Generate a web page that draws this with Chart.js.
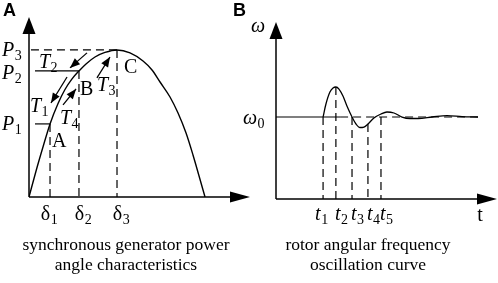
<!DOCTYPE html>
<html><head><meta charset="utf-8">
<script src="https://cdn.jsdelivr.net/npm/chart.js@4"></script>
<style>
html,body{margin:0;padding:0;background:#fff;}
#wrap{position:relative;width:498px;height:283px;background:#fff;}
canvas{position:absolute;left:0;top:0;}
</style></head><body>
<div id="wrap"><canvas id="cA" width="498" height="283"></canvas><canvas id="cB" width="498" height="283"></canvas></div>
<script>
// ---------- Panel A: power-angle characteristic ----------
const deltaDeg = [0, 7.2, 14.3, 21.5, 29.7, 36.8, 44.0, 51.1, 58.3, 67.5, 77.7, 90, 103.3, 116.6, 125.8, 134.0, 144.2, 152.4, 160.6, 167.7, 173.9, 180];
const powerPU  = [0, 0.177, 0.340, 0.497, 0.636, 0.731, 0.803, 0.857, 0.905, 0.952, 0.983, 1.0, 0.980, 0.925, 0.864, 0.782, 0.680, 0.571, 0.435, 0.286, 0.143, 0];
const deltaMarks = [21.5, 51.1, 90];      // δ1, δ2, δ3
const powerMarks = [0.497, 0.857, 1.0];   // P1, P2, P3
const markSubs = ['1', '2', '3'];
// torque arrows [startDeg, startP, endDeg, endP]
const torqueArrows = [
  [59.3, 0.980, 41.9, 0.878],  // T2
  [38.9, 0.816, 22.5, 0.639],  // T1
  [34.8, 0.626, 48.1, 0.735],  // T4
  [69.5, 0.810, 82.8, 0.952]   // T3
];

// ---------- Panel B: rotor angular frequency ----------
const timeT  = [21.3, 22.6, 24.4, 25.8, 27.1, 28.5, 30.3, 32.1, 34.4, 36.2, 38.0, 39.8, 41.6, 44.3, 47.5, 50.2, 53.4, 57.0, 60.6, 64.3, 70.6, 77.4, 84.2, 91.4];
const omegaW = [1.0, 1.159, 1.305, 1.354, 1.366, 1.341, 1.256, 1.134, 1.0, 0.915, 0.872, 0.878, 0.915, 0.988, 1.037, 1.061, 1.049, 1.0, 0.982, 0.982, 1.0, 1.018, 1.006, 1.0];
const timeMarks  = [21.3, 27.1, 34.4, 41.6, 47.5];   // t1..t5
const timeMarkW  = [1.0, 1.366, 1.0, 0.915, 1.0];
const timeSubs   = ['1', '2', '3', '4', '5'];
const omegaSolidEnd = 29;
const omegaDashEnd = 91.4;

const captionsA = ['synchronous generator power', 'angle characteristics'];
const captionsB = ['rotor angular frequency', 'oscillation curve'];

const SERIF = '"Liberation Serif", "Times New Roman", serif';
const DASH = [8, 5];

function arrowHead(ctx, x0, y0, x1, y1, len, hw) {
  const a = Math.atan2(y1 - y0, x1 - x0);
  ctx.beginPath();
  ctx.moveTo(x1, y1);
  ctx.lineTo(x1 - len * Math.cos(a) + hw * Math.sin(a), y1 - len * Math.sin(a) - hw * Math.cos(a));
  ctx.lineTo(x1 - len * Math.cos(a) - hw * Math.sin(a), y1 - len * Math.sin(a) + hw * Math.cos(a));
  ctx.closePath();
  ctx.fill();
}
function drawSub(ctx, x, yc, main, s, italic, align) {
  const mf = (italic ? 'italic ' : '') + '20px ' + SERIF;
  const sf = '14px ' + SERIF;
  ctx.font = mf; const w1 = ctx.measureText(main).width;
  ctx.font = sf; const w2 = ctx.measureText(s).width;
  let left = x;
  if (align === 'center') left = x - (w1 + w2) / 2;
  ctx.textAlign = 'left'; ctx.textBaseline = 'alphabetic';
  ctx.font = mf; ctx.fillText(main, left, yc + 6);
  ctx.font = sf; ctx.fillText(s, left + w1 + 0.5, yc + 10);
}
function drawAxes(chart) {
  const ctx = chart.ctx, xs = chart.scales.x, ys = chart.scales.y, ca = chart.chartArea;
  const x0 = xs.getPixelForValue(0), y0 = ys.getPixelForValue(0);
  ctx.save();
  ctx.strokeStyle = '#000'; ctx.fillStyle = '#000'; ctx.lineWidth = 1.5;
  ctx.beginPath(); ctx.moveTo(x0, y0); ctx.lineTo(x0, ca.top + 10); ctx.stroke();
  arrowHead(ctx, x0, y0, x0, ca.top, 17, 6.5);
  ctx.beginPath(); ctx.moveTo(x0, y0); ctx.lineTo(ca.right - 10, y0); ctx.stroke();
  arrowHead(ctx, x0, y0, ca.right, y0, 20, 5.5);
  ctx.restore();
}

const labelsA = {
  id: 'labelsA',
  afterDatasetsDraw(chart) {
    const ctx = chart.ctx, xs = chart.scales.x, ys = chart.scales.y;
    drawAxes(chart);
    ctx.save();
    ctx.fillStyle = '#000'; ctx.strokeStyle = '#000'; ctx.lineWidth = 1.3;
    torqueArrows.forEach(a => {
      const x0 = xs.getPixelForValue(a[0]), y0 = ys.getPixelForValue(a[1]);
      const x1 = xs.getPixelForValue(a[2]), y1 = ys.getPixelForValue(a[3]);
      ctx.beginPath(); ctx.moveTo(x0, y0); ctx.lineTo(x1, y1); ctx.stroke();
      arrowHead(ctx, x0, y0, x1, y1, 10, 4);
    });
    powerMarks.forEach((p, i) => {
      const yc = ys.getPixelForValue(p);
      drawSub(ctx, 2, yc + (i === 1 ? 2 : 0), 'P', markSubs[i], true, 'left');
    });
    deltaMarks.forEach((d, i) => {
      drawSub(ctx, xs.getPixelForValue(d) + (i === 0 ? -1 : 4), 214, 'δ', markSubs[i], false, 'center');
    });
    drawSub(ctx, 39, 62, 'T', '2', true, 'left');
    drawSub(ctx, 30, 106, 'T', '1', true, 'left');
    drawSub(ctx, 60, 118, 'T', '4', true, 'left');
    drawSub(ctx, 97, 85, 'T', '3', true, 'left');
    ctx.font = '20px ' + SERIF; ctx.textAlign = 'left'; ctx.textBaseline = 'alphabetic';
    ctx.fillText('A', 52, 147);
    ctx.fillText('B', 80, 95);
    ctx.fillText('C', 124, 73);
    ctx.font = 'bold 18px "Liberation Sans", Arial, sans-serif';
    ctx.fillText('A', 3, 16);
    ctx.font = '17.5px ' + SERIF; ctx.textAlign = 'center';
    ctx.fillText(captionsA[0], 126, 250);
    ctx.fillText(captionsA[1], 126, 270);
    ctx.restore();
  }
};
const labelsB = {
  id: 'labelsB',
  afterDatasetsDraw(chart) {
    const ctx = chart.ctx, xs = chart.scales.x, ys = chart.scales.y;
    drawAxes(chart);
    ctx.save(); ctx.fillStyle = '#000';
    ctx.font = 'italic 20px ' + SERIF; ctx.textAlign = 'left'; ctx.textBaseline = 'alphabetic';
    ctx.fillText('ω', 251, 32);
    drawSub(ctx, 243, ys.getPixelForValue(1) + 1, 'ω', '0', true, 'left');
    timeMarks.forEach((t, i) => {
      drawSub(ctx, xs.getPixelForValue(t) - (i === 0 ? 8 : 1), 214, 't', timeSubs[i], true, 'left');
    });
    ctx.font = '20px ' + SERIF; ctx.textAlign = 'center';
    ctx.fillText('t', 480, 221);
    ctx.font = 'bold 18px "Liberation Sans", Arial, sans-serif'; ctx.textAlign = 'left';
    ctx.fillText('B', 233, 16);
    ctx.font = '17.5px ' + SERIF; ctx.textAlign = 'center';
    ctx.fillText(captionsB[0], 368, 250);
    ctx.fillText(captionsB[1], 368, 270);
    ctx.restore();
  }
};

function seg(data, dashed, width) {
  return { data, showLine: true, borderColor: '#000', borderWidth: width || 1.2, pointRadius: 0, borderDash: dashed ? DASH : [], tension: 0, fill: false };
}
const baseOpts = (xmax, ymax, pad) => ({
  responsive: false, animation: false, devicePixelRatio: 1,
  layout: { padding: pad },
  plugins: { legend: { display: false }, tooltip: { enabled: false } },
  scales: {
    x: { type: 'linear', min: 0, max: xmax, display: false },
    y: { type: 'linear', min: 0, max: ymax, display: false }
  }
});

const dsA = [];
dsA.push(Object.assign(seg(deltaDeg.map((d, i) => ({ x: d, y: powerPU[i] })), false, 1.4), { cubicInterpolationMode: 'monotone' }));
dsA.push(seg([{ x: 2, y: powerMarks[2] }, { x: deltaMarks[2], y: powerMarks[2] }], true));
dsA.push(seg([{ x: 6.1, y: powerMarks[1] }, { x: deltaMarks[1], y: powerMarks[1] }], false));
dsA.push(seg([{ x: 6.1, y: powerMarks[0] }, { x: deltaMarks[0], y: powerMarks[0] }], false));
deltaMarks.forEach((d, i) => dsA.push(seg([{ x: d, y: powerMarks[i] }, { x: d, y: 0 }], true)));

new Chart(document.getElementById('cA'), {
  type: 'scatter',
  data: { datasets: dsA },
  options: baseOpts(226, 1.224, { left: 29, top: 17, right: 248, bottom: 86 }),
  plugins: [labelsA]
});

const dsB = [];
dsB.push(Object.assign(seg(timeT.map((t, i) => ({ x: t, y: omegaW[i] })), false, 1.3), { cubicInterpolationMode: 'monotone' }));
dsB.push(seg([{ x: 0, y: 1 }, { x: omegaSolidEnd, y: 1 }], false));
dsB.push(seg([{ x: omegaSolidEnd, y: 1 }, { x: omegaDashEnd, y: 1 }], true));
timeMarks.forEach((t, i) => dsB.push(seg([{ x: t, y: timeMarkW[i] }, { x: t, y: 0 }], true)));

new Chart(document.getElementById('cB'), {
  type: 'scatter',
  data: { datasets: dsB },
  options: baseOpts(100, 2.159, { left: 276, top: 22, right: 1, bottom: 84 }),
  plugins: [labelsB]
});
</script>
</body></html>
